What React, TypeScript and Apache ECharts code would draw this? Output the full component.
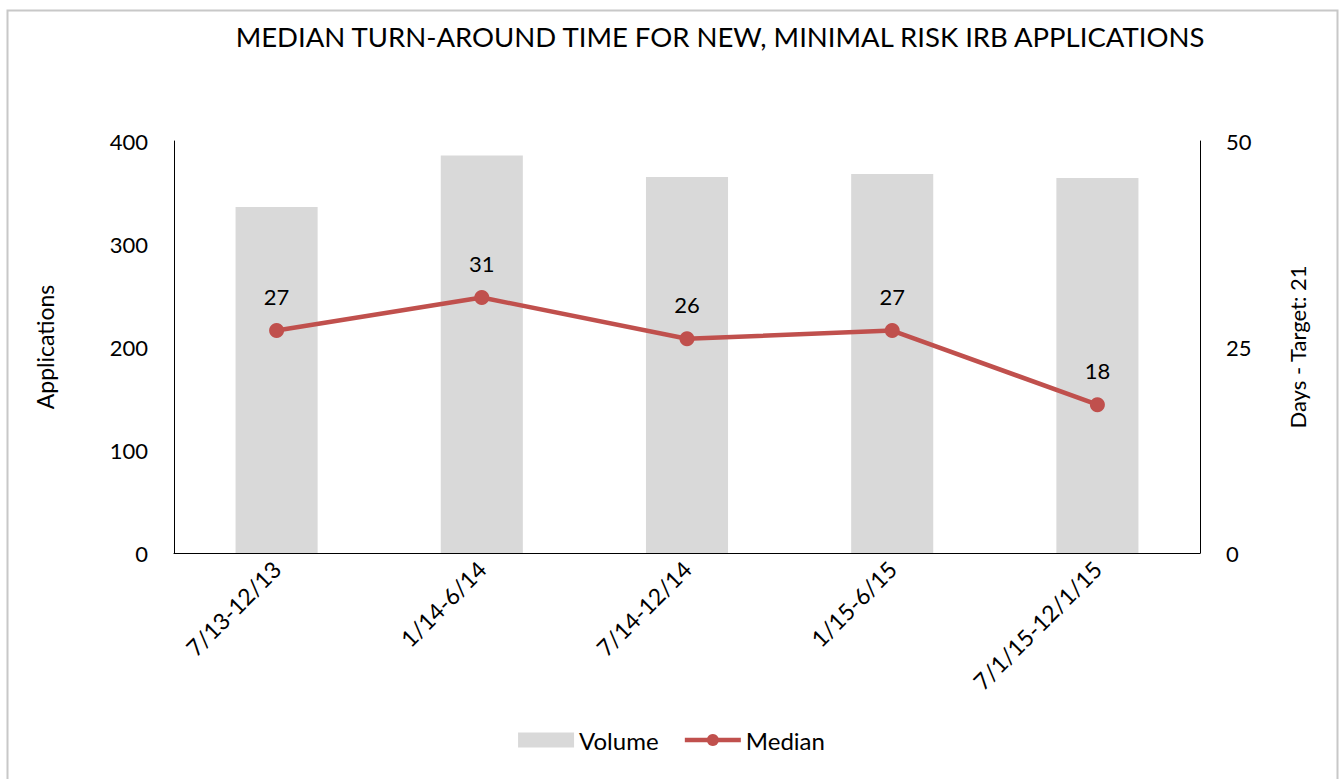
import React, { useEffect, useRef } from "react";
import * as echarts from "echarts";

const categories = ["7/13-12/13", "1/14-6/14", "7/14-12/14", "1/15-6/15", "7/1/15-12/1/15"];
const volume = [336, 386, 365, 368, 364];
const median = [27, 31, 26, 27, 18];

const FONT = "Lato, 'Open Sans', sans-serif";

export default function App() {
  const ref = useRef<HTMLDivElement>(null);
  useEffect(() => {
    const chart = echarts.init(ref.current!, null, { renderer: "svg" });
    chart.setOption({
      animation: false,
      backgroundColor: "#ffffff",
      textStyle: { fontFamily: FONT, color: "#000" },
      graphic: [
        {
          type: "rect",
          shape: { x: 7.5, y: 10.5, width: 1330, height: 780 },
          style: { fill: "none", stroke: "#c8c8c8", lineWidth: 2 },
          silent: true,
        },
      ],
      title: {
        text: "MEDIAN TURN-AROUND TIME FOR NEW, MINIMAL RISK IRB APPLICATIONS",
        left: 715,
        textAlign: "center",
        top: 17,
        textStyle: { fontFamily: FONT, fontSize: 27.5, fontWeight: "normal", color: "#000" },
      },
      legend: {
        bottom: 22,
        left: "center",
        itemGap: 24,
        itemWidth: 56,
        itemHeight: 15,
        textStyle: { fontFamily: FONT, fontSize: 24, color: "#000" },
        data: [
          { name: "Volume", icon: "rect" },
          { name: "Median", lineStyle: { width: 4.5, color: "#C0504D" } },
        ],
      },
      grid: { left: 174, right: 143, top: 141, bottom: 226, containLabel: false },
      xAxis: {
        type: "category",
        data: categories,
        axisLine: { lineStyle: { color: "#000", width: 1 } },
        axisTick: { show: false },
        axisLabel: { rotate: 45, fontFamily: FONT, fontSize: 23, color: "#000", margin: 12 },
      },
      yAxis: [
        {
          type: "value",
          min: 0,
          max: 400,
          interval: 100,
          name: "Applications",
          nameLocation: "middle",
          nameGap: 118,
          nameRotate: 90,
          nameTextStyle: { fontFamily: FONT, fontSize: 23, color: "#000" },
          axisLine: { show: true, lineStyle: { color: "#000" } },
          axisTick: { show: false },
          splitLine: { show: false },
          axisLabel: { fontFamily: FONT, fontSize: 22, color: "#000", margin: 26 },
        },
        {
          type: "value",
          min: 0,
          max: 50,
          interval: 25,
          name: "Days - Target: 21",
          nameLocation: "middle",
          nameGap: 86,
          nameRotate: 90,
          nameTextStyle: { fontFamily: FONT, fontSize: 22, color: "#000" },
          axisLine: { show: true, lineStyle: { color: "#000" } },
          axisTick: { show: false },
          splitLine: { show: false },
          axisLabel: { fontFamily: FONT, fontSize: 22, color: "#000", margin: 26 },
        },
      ],
      series: [
        {
          name: "Volume",
          type: "bar",
          data: volume,
          barWidth: "40%",
          itemStyle: { color: "#D9D9D9" },
          yAxisIndex: 0,
        },
        {
          name: "Median",
          type: "line",
          data: median,
          yAxisIndex: 1,
          symbol: "circle",
          symbolSize: 15,
          lineStyle: { color: "#C0504D", width: 4.5 },
          itemStyle: { color: "#C0504D" },
          label: {
            show: true,
            position: "top",
            distance: 16,
            fontFamily: FONT,
            fontSize: 22,
            color: "#000",
          },
        },
      ],
    });
    return () => chart.dispose();
  }, []);
  return <div ref={ref} style={{ position: "fixed", left: 0, top: 0, width: 1343, height: 779 }} />;
}
